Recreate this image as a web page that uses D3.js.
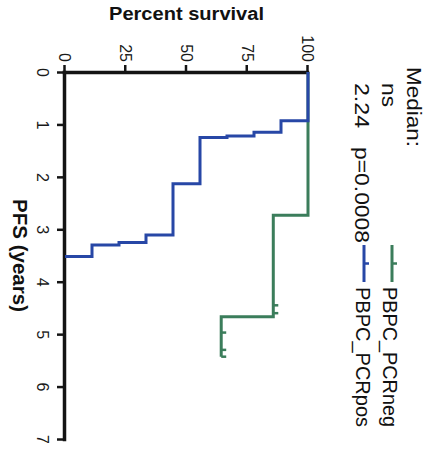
<!DOCTYPE html>
<html><head><meta charset="utf-8">
<script src="https://cdn.jsdelivr.net/npm/d3@7"></script>
<style>
html,body{margin:0;padding:0;background:#fff;}
svg{display:block;font-family:"Liberation Sans",Arial,sans-serif;}
</style></head><body>
<script>
// Axis ticks
const yearTicks = [0, 1, 2, 3, 4, 5, 6, 7];
const percentTicks = [0, 25, 50, 75, 100];

// Follow-up times (years) and event flags (1 = progression, 0 = censored)
const negTimes  = [2.73, 4.45, 4.60, 4.67, 4.97, 5.30, 5.43];
const negEvents = [1, 0, 0, 1, 0, 0, 0];
const posTimes  = [0.93, 1.15, 1.22, 1.25, 2.13, 3.11, 3.25, 3.30, 3.52];
const posEvents = [1, 1, 1, 1, 1, 1, 1, 1, 1];

const groupNames  = ["PBPC_PCRneg", "PBPC_PCRpos"];
const groupColors = ["#3b7d5b", "#2747a6"];
const medianHeader = "Median:";
const medianValues = ["ns", "2.24"];
const pValueText = "p=0.0008";

const width = 430, height = 450;
const W = 367, H = 243;           // plot extent along years / percent
const originX = 308, originY = 72; // page position of (0 years, 100 %)

const svg = d3.select("body").append("svg")
  .attr("width", width).attr("height", height);

// The whole chart is laid out normally and then turned a quarter turn clockwise.
const g = svg.append("g")
  .attr("transform", `translate(${originX},${originY}) rotate(90)`);

const x = d3.scaleLinear([0, 7], [0, W]);
const y = d3.scaleLinear([0, 100], [H, 0]);

function kaplanMeier(times, events) {
  const order = d3.range(times.length).sort((a, b) => times[a] - times[b]);
  let atRisk = times.length, s = 100;
  const pts = [{t: 0, s: 100}], censors = [];
  order.forEach(i => {
    if (events[i]) {
      s = s * (atRisk - 1) / atRisk;
      pts.push({t: times[i], s});
    } else {
      censors.push({t: times[i], s});
    }
    atRisk--;
  });
  const tMax = d3.max(times);
  if (pts[pts.length - 1].t < tMax) pts.push({t: tMax, s});
  return {pts, censors};
}

const stepLine = d3.line().x(d => x(d.t)).y(d => y(d.s)).curve(d3.curveStepAfter);

const curves = [kaplanMeier(negTimes, negEvents), kaplanMeier(posTimes, posEvents)];

// Axes
const xAxis = g.append("g").attr("transform", `translate(0,${H})`)
  .call(d3.axisBottom(x).tickValues(yearTicks).tickFormat(d3.format("d"))
    .tickSize(8).tickPadding(9).tickSizeOuter(0));
const yAxis = g.append("g")
  .call(d3.axisLeft(y).tickValues(percentTicks).tickFormat(d3.format("d"))
    .tickSize(7).tickPadding(3).tickSizeOuter(0));

[xAxis, yAxis].forEach(a => {
  a.select(".domain").attr("stroke", "#141414").attr("stroke-width", 3.5).attr("stroke-linecap", "square");
  a.selectAll(".tick line").attr("stroke", "#141414").attr("stroke-width", 2.5);
  a.selectAll(".tick text").attr("fill", "#1a1a1a").style("font-size", "16px")
    .style("font-family", "'Liberation Sans',Arial,sans-serif");
});

// Survival curves with censor marks
curves.forEach((c, i) => {
  g.append("path").datum(c.pts)
    .attr("fill", "none").attr("stroke", groupColors[i]).attr("stroke-width", 3)
    .attr("d", stepLine);
  g.selectAll(null).data(c.censors).join("line")
    .attr("x1", d => x(d.t)).attr("x2", d => x(d.t))
    .attr("y1", d => y(d.s)).attr("y2", d => y(d.s) - 5)
    .attr("stroke", groupColors[i]).attr("stroke-width", 2.5);
});

// Axis titles
g.append("text")
  .attr("transform", `translate(${-52},${H / 2}) rotate(-90)`)
  .attr("text-anchor", "middle")
  .attr("textLength", 155).attr("lengthAdjust", "spacingAndGlyphs")
  .style("font-size", "18px").style("font-weight", "bold").attr("fill", "#111")
  .text("Percent survival");

g.append("text")
  .attr("x", W / 2).attr("y", 295)
  .attr("text-anchor", "middle")
  .attr("textLength", 113).attr("lengthAdjust", "spacingAndGlyphs")
  .style("font-size", "20px").style("font-weight", "bold").attr("fill", "#111")
  .text("PFS (years)");

// Legend block: medians, p value and group keys
const legend = g.append("g").style("font-size", "21px").attr("fill", "#111");
function label(txt, u, v, len) {
  const t = legend.append("text").attr("x", u).attr("y", v).text(txt);
  if (len) t.attr("textLength", len).attr("lengthAdjust", "spacingAndGlyphs");
  return t;
}
label(medianHeader, -5, -99, 80);
label(medianValues[0], 11, -74, 24);
label(medianValues[1], 11, -47, 45);
label(pValueText, 75, -47, 96);

const keyRows = [-84, -56];
const keyText = [-75, -48];
groupNames.forEach((name, i) => {
  legend.append("line")
    .attr("x1", 173).attr("x2", 210).attr("y1", keyRows[i]).attr("y2", keyRows[i])
    .attr("stroke", groupColors[i]).attr("stroke-width", 3);
  legend.append("line")
    .attr("x1", 191.5).attr("x2", 191.5).attr("y1", keyRows[i]).attr("y2", keyRows[i] - 5)
    .attr("stroke", groupColors[i]).attr("stroke-width", 2.5);
  label(name, 215, keyText[i], 140);
});
</script>
</body></html>
